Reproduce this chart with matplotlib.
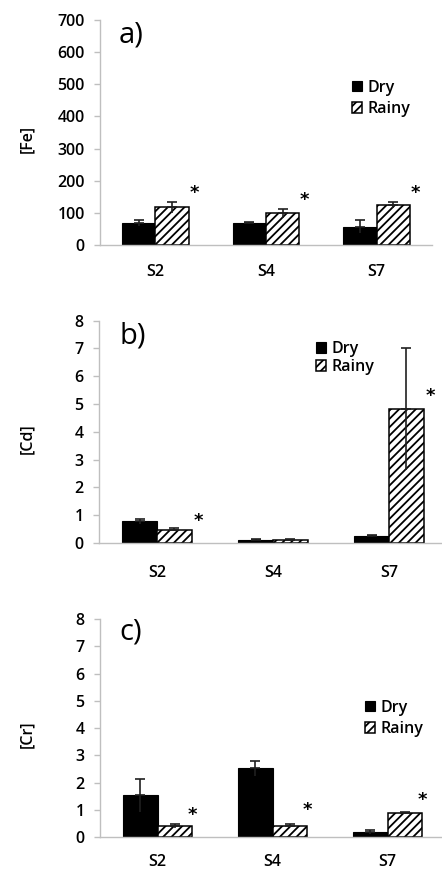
import numpy as np
import matplotlib
matplotlib.use("Agg")
import matplotlib.pyplot as plt

plt.rcParams['font.family'] = ['Open Sans', 'DejaVu Sans']
plt.rcParams['font.weight'] = 'semibold'
plt.rcParams['hatch.linewidth'] = 1.3

# data
sites = ['S2', 'S4', 'S7']
seasons = ['Dry', 'Rainy']

fe_dry = [68, 68, 57]
fe_dry_sd = [10, 4, 21]
fe_rainy = [118, 98, 125]
fe_rainy_sd = [17, 14, 10]
fe_star = [162, 140, 162]

cd_dry = [0.78, 0.12, 0.25]
cd_dry_sd = [0.09, 0.03, 0.03]
cd_rainy = [0.48, 0.12, 4.82]
cd_rainy_sd = [0.06, 0.02, 2.2]
cd_star = [0.78, None, 5.3]

cr_dry = [1.53, 2.52, 0.18]
cr_dry_sd = [0.6, 0.27, 0.06]
cr_rainy = [0.40, 0.42, 0.88]
cr_rainy_sd = [0.06, 0.05, 0.02]
cr_star = [0.82, 0.98, 1.35]

GREY = '#BFBFBF'
FS = 11.5

fig = plt.figure(figsize=(4.42, 8.72), dpi=100)


def panel(rect, dry, dry_sd, rainy, rainy_sd, stars, star_dx, ymax, ystep,
          ylabel, letter, letter_xy, leg_xy, leg_space, lab_pad):
    ax = fig.add_axes(rect)
    x = np.arange(len(sites))
    w = 0.3
    b1 = ax.bar(x - w / 2, dry, w, color='black', edgecolor='black', lw=0.8, label=seasons[0])
    b2 = ax.bar(x + w / 2, rainy, w, color='white', edgecolor='black', lw=1.1,
                hatch='////', label=seasons[1])
    for xs, m, sd in [(x - w / 2, dry, dry_sd), (x + w / 2, rainy, rainy_sd)]:
        m = np.array(m)
        sd = np.array(sd)
        # upper part with cap, lower part without (excel style)
        ax.errorbar(xs, m, yerr=[np.zeros_like(sd), sd], fmt='none', ecolor='#202020',
                    elinewidth=1.2, capsize=3.5, capthick=1.2, zorder=3)
        ax.errorbar(xs, m, yerr=[sd, np.zeros_like(sd)], fmt='none', ecolor='#202020',
                    elinewidth=1.2, capsize=0, zorder=3)
    for i, s in enumerate(stars):
        if s is not None:
            ax.text(x[i] + star_dx, s, '*', ha='center', va='center', fontsize=13,
                    fontweight='bold', family='DejaVu Sans')
    ax.set_xlim(-0.5, 2.5)
    ax.set_ylim(0, ymax)
    ax.set_yticks(np.arange(0, ymax + ystep / 2, ystep))
    ax.set_xticks(x)
    ax.set_xticklabels(sites, fontsize=FS)
    ax.tick_params(axis='x', length=0, pad=lab_pad)
    ax.tick_params(axis='y', length=4, color=GREY, width=1, labelsize=FS, pad=7)
    for s in ['top', 'right']:
        ax.spines[s].set_visible(False)
    for s in ['left', 'bottom']:
        ax.spines[s].set_color(GREY)
        ax.spines[s].set_linewidth(1)
    fig.text(27 / 442, rect[1] + rect[3] * 0.47, ylabel, rotation=90, ha='center',
             va='center', fontsize=FS)
    fig.text(letter_xy[0], letter_xy[1], letter, ha='left', va='center', fontsize=21,
             fontweight='medium')
    ax.legend([b1, b2], seasons, loc='center left', bbox_to_anchor=leg_xy,
              bbox_transform=fig.transFigure, frameon=False, fontsize=FS,
              handlelength=0.65, handleheight=0.65, handletextpad=0.3,
              borderpad=0, borderaxespad=0, labelspacing=leg_space)
    return ax


panel([100 / 442, 1 - 245 / 872, 332 / 442, 225 / 872],
      fe_dry, fe_dry_sd, fe_rainy, fe_rainy_sd, fe_star, 0.35, 700, 100,
      '[Fe]', 'a)', (119 / 442, 1 - 35 / 872), (352 / 442, 1 - 98.5 / 872), 0.35, 14)

panel([99 / 442, 1 - 543 / 872, 348 / 442, 222.3 / 872],
      cd_dry, cd_dry_sd, cd_rainy, cd_rainy_sd, cd_star, 0.36, 8, 1,
      '[Cd]', 'b)', (119 / 442, 1 - 336 / 872), (316 / 442, 1 - 358 / 872), 0.12, 16)

panel([100 / 442, 1 - 837 / 872, 345 / 442, 218 / 872],
      cr_dry, cr_dry_sd, cr_rainy, cr_rainy_sd, cr_star, 0.30, 8, 1,
      '[Cr]', 'c)', (119 / 442, 1 - 632 / 872), (365 / 442, 1 - 718.5 / 872), 0.35, 12)

fig.savefig('out.png', dpi=100)
